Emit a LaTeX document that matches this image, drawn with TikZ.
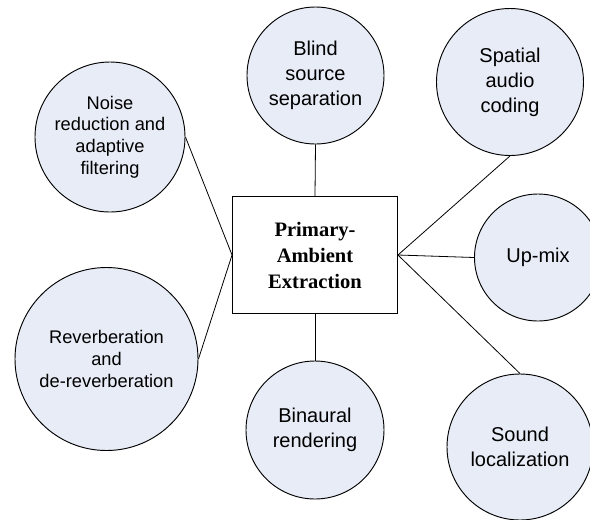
\documentclass[tikz,border=0pt]{standalone}
\usepackage{fontspec}
\setmainfont{Liberation Sans}
\newfontfamily\boxfont{Liberation Serif}
\definecolor{circfill}{RGB}{231,236,246}
\begin{document}
\begin{tikzpicture}[x=0.75pt,y=-0.75pt,
  topic/.style={circle,draw=black,line width=0.7pt,fill=circfill,inner sep=0pt,align=center},
  big/.style={topic,font=\fontsize{15pt}{18.75pt}\selectfont},
  small/.style={topic,font=\fontsize{13.7pt}{16.2pt}\selectfont},
  centerbox/.style={rectangle,draw=black,line width=0.7pt,fill=white,inner sep=0pt,align=center,
    minimum width=123.75pt,minimum height=87.75pt,font=\boxfont\bfseries\fontsize{15.4pt}{19.5pt}\selectfont},
  link/.style={draw=black,line width=0.6pt}]
\useasboundingbox (0,0) rectangle (590,519);
\clip (0,0) rectangle (590,519);
\fill[white] (0,0) rectangle (590,519);

\node[centerbox] (pae) at (315,255) {Primary-\\Ambient\\Extraction};

\node[small,minimum size=112.5pt] (noise) at (110,137) {Noise\\reduction and\\adaptive\\filtering};
\node[big,minimum size=102.75pt] (blind) at (315.5,75.5) {Blind\\source\\separation};
\node[big,minimum size=110.25pt] (spatial) at (510,82) {Spatial\\audio\\coding};
\node[big,minimum size=95.25pt] (upmix) at (538,257.5) {Up-mix};
\node[small,minimum size=137.25pt] (reverb) at (106.5,359) {Reverberation\\and\\de-reverberation};
\node[big,minimum size=103.5pt] (binaural) at (315,430) {Binaural\\rendering};
\node[big,minimum size=109.5pt] (sound) at (520,447) {Sound\\localization};

\draw[link] (noise.east) -- (pae.west);
\draw[link] (reverb.east) -- (pae.west);
\draw[link] (blind.south) -- (pae.north);
\draw[link] (binaural.north) -- (pae.south);
\draw[link] (spatial.south) -- (pae.east);
\draw[link] (upmix.west) -- (pae.east);
\draw[link] (sound.north) -- (pae.east);
\end{tikzpicture}
\end{document}
